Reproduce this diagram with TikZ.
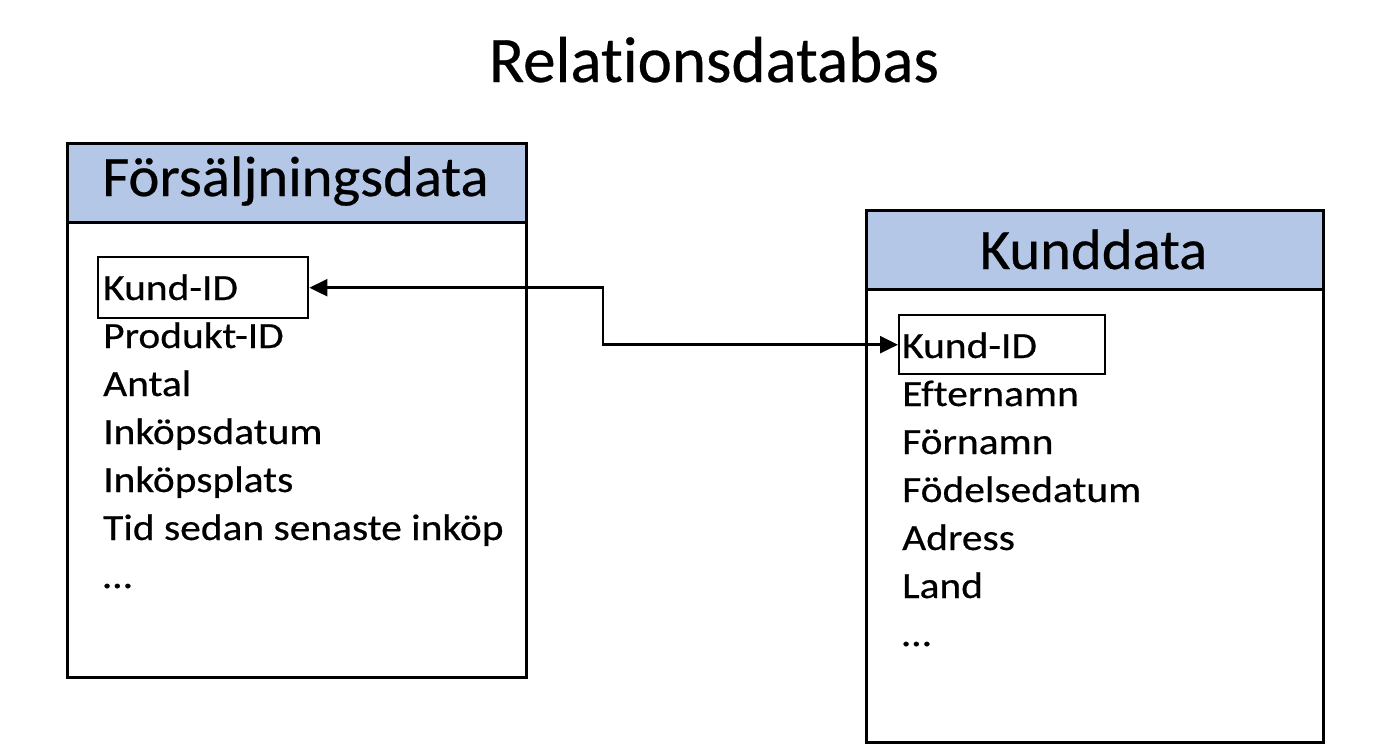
\documentclass[tikz,border=0pt]{standalone}
\usepackage{fontspec}
\setmainfont[Ligatures=NoCommon]{Carlito}
\newfontfamily\itemfont[FakeStretch=1.12,FakeBold=0.45,Ligatures=NoCommon]{Carlito}
\newfontfamily\hdrfont[FakeStretch=1.03,FakeBold=0.45,Ligatures=NoCommon]{Carlito}
\newfontfamily\ttlfont[FakeBold=0.45,Ligatures=NoCommon]{Carlito}
\usetikzlibrary{arrows.meta}
\definecolor{hdr}{RGB}{180,199,231}
\begin{document}
\begin{tikzpicture}[x=1pt,y=-1pt,
  frame/.style={draw=black,line width=2.8pt,anchor=north west,inner sep=0pt},
  hdrbox/.style={frame,fill=hdr},
  item/.style={anchor=base west,inner sep=0pt,font=\itemfont\fontsize{37}{40}\selectfont},
  htext/.style={anchor=base,inner sep=0pt,font=\hdrfont\fontsize{57}{60}\selectfont},
  keybox/.style={draw=black,line width=2.4pt,anchor=north west,inner sep=0pt},
  link/.style={line width=2.5pt,{Triangle[length=18pt,width=17pt]}-{Triangle[length=18pt,width=17pt]}}]
\useasboundingbox (0,0) rectangle (1393,752);
\fill[white] (0,0) rectangle (1393,752);
% title
\node[anchor=base,inner sep=0pt,font=\ttlfont\fontsize{65}{70}\selectfont] (title) at (714,82) {Relationsdatabas};
% left table
\node[frame,minimum width=459,minimum height=534] (lt) at (66,142) {};
\node[hdrbox,minimum width=459,minimum height=79] (lh) at (66,142) {};
\node[htext] (lht) at (295.5,196) {Försäljningsdata};
\node[keybox,minimum width=210,minimum height=61] (kl) at (97,256) {};
\node[item] (l1) at (103,300) {Kund-ID};
\node[item] (l2) at (103,348) {Produkt-ID};
\node[item] (l3) at (103,396) {Antal};
\node[item] (l4) at (103,444) {Inköpsdatum};
\node[item] (l5) at (103,492) {Inköpsplats};
\node[item] (l6) at (103,540) {Tid sedan senaste inköp};
\node[item] (l7) at (103,588) {…};
% right table
\node[frame,minimum width=457,minimum height=532] (rt) at (865,209) {};
\node[hdrbox,minimum width=457,minimum height=79] (rh) at (865,209) {};
\node[htext] (rht) at (1093.5,269) {Kunddata};
\node[keybox,minimum width=206,minimum height=59] (kr) at (898,314) {};
\node[item] (r1) at (902,358) {Kund-ID};
\node[item] (r2) at (902,406) {Efternamn};
\node[item] (r3) at (902,454) {Förnamn};
\node[item] (r4) at (902,502) {Födelsedatum};
\node[item] (r5) at (902,550) {Adress};
\node[item] (r6) at (902,598) {Land};
\node[item] (r7) at (902,646) {…};
% connector
\coordinate (mid) at (603,300);
\draw[link] (kl.east) -- (kl.east -| mid) -- (kr.west -| mid) -- (kr.west);
\end{tikzpicture}
\end{document}
